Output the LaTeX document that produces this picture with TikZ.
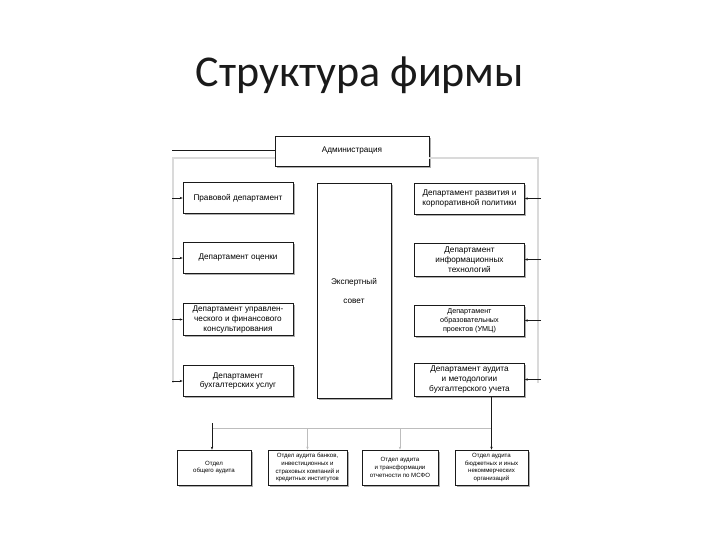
\documentclass[tikz,border=0pt]{standalone}
\usepackage{fontspec}
\setmainfont{Liberation Sans}
\newfontfamily\titlefont{Carlito}
\usetikzlibrary{arrows.meta,shadows}

\begin{document}
\begin{tikzpicture}[x=1pt,y=-1pt]

\definecolor{orgink}{HTML}{1A1A1A}
\definecolor{orgframe}{HTML}{DADADA}
\definecolor{orglink}{HTML}{BDBDBD}
\definecolor{orgshadow}{HTML}{8C8C8C}

\tikzset{
  unitbox/.style={
    draw=orgink, fill=white, line width=0.7pt, align=center, inner sep=1pt,
    drop shadow={shadow xshift=1.8pt, shadow yshift=-1.8pt,
      fill=orgshadow, opacity=0.7}
  },
  deptbox/.style={
    unitbox, minimum width=110pt, minimum height=31pt,
    font=\fontsize{8.2}{9.8}\selectfont
  },
  sectbox/.style={
    unitbox, minimum height=35pt, font=\fontsize{6.1}{7.8}\selectfont
  },
  frameline/.style={draw=orgframe, line width=1.2pt},
  feededge/.style={
    draw=orgink, line width=0.5pt, -{Stealth[length=3pt,width=2.4pt]}
  },
  branchedge/.style={
    draw=orglink, line width=0.8pt, -{Stealth[length=3pt,width=2.4pt]}
  }
}

\useasboundingbox (0,0) rectangle (720,540);

% Title of the slide.
\node[font=\titlefont\fontsize{44}{50}\selectfont, text=orgink, anchor=base]
  (title) at (360,87) {Структура фирмы};

% Head of the firm and the grey frame that feeds every department.
\node[unitbox, minimum width=154pt, minimum height=30pt,
  font=\fontsize{8.2}{10}\selectfont] (admin) at (352,151) {Администрация};
\draw[frameline] (admin.west |- 0,158) -- (173,158) -- (173,383);
\draw[frameline] (admin.east |- 0,158) -- (538,158) -- (538,383);
\coordinate (headin) at (172,151);
\draw[orgink, line width=1pt] (headin) -- (admin.west);

% Left column.
\node[deptbox] (law)     at (238,198)   {Правовой департамент};
\node[deptbox] (valuat)  at (238,258)   {Департамент оценки};
\node[deptbox, minimum height=32pt] (consult) at (238,319.5)
  {Департамент управлен-\\ческого и финансового\\консультирования};
\node[deptbox] (bookk)   at (238,381)   {Департамент\\бухгалтерских услуг};

% Expert council in the middle.
\node[unitbox, minimum width=74pt, minimum height=215pt,
  font=\fontsize{8.2}{10}\selectfont] (council) at (354,290.5)
  {Экспертный\\[9pt]совет};

% Right column.
\node[deptbox] (corp)  at (469.5,198.5) {Департамент развития и\\корпоративной политики};
\node[deptbox, minimum height=33pt] (itech) at (469.5,259.5)
  {Департамент\\информационных\\технологий};
\node[deptbox, font=\fontsize{7.2}{9}\selectfont] (educ) at (469.5,320.5)
  {Департамент\\образовательных\\проектов (УМЦ)};
\node[deptbox, minimum height=33pt] (audit) at (469.5,379.5)
  {Департамент аудита\\и методологии\\бухгалтерского учета};

% Short feeds from the frame into each department.
\foreach \dept/\ypos in {law/198,valuat/258,consult/319.5,bookk/381}{%
  \coordinate (in-\dept) at (172,\ypos);
  \draw[feededge] (in-\dept) -- (\dept.west);
}
\foreach \dept/\ypos in {corp/198.5,itech/259.5,educ/320.5,audit/379.5}{%
  \coordinate (in-\dept) at (541,\ypos);
  \draw[feededge] (in-\dept) -- (\dept.east);
}

% Audit sections.
\node[sectbox, minimum width=74pt] (sgen)  at (214,467.5)
  {Отдел\\общего аудита};
\node[sectbox, minimum width=79pt] (sbank) at (307.5,467.5)
  {Отдел аудита банков,\\инвестиционных и\\страховых компаний и\\кредитных институтов};
\node[sectbox, minimum width=76pt] (sifrs) at (400,467.5)
  {Отдел аудита\\и трансформации\\отчетности по МСФО};
\node[sectbox, minimum width=73pt] (sbudg) at (491.5,467.5)
  {Отдел аудита\\бюджетных и иных\\некоммерческих\\организаций};

% Branching from the audit department.
\draw[orglink, line width=0.8pt] (212,428) -- (sbudg.north |- 0,428);
\draw[branchedge] (sbank.north |- 0,428) -- (sbank.north);
\draw[branchedge] (sifrs.north |- 0,428) -- (sifrs.north);
\coordinate (genin) at (212,423);
\draw[feededge] (genin) -- (sgen.north -| genin);
\draw[feededge] (audit.south -| sbudg.north) -- (sbudg.north);

\end{tikzpicture}
\end{document}
